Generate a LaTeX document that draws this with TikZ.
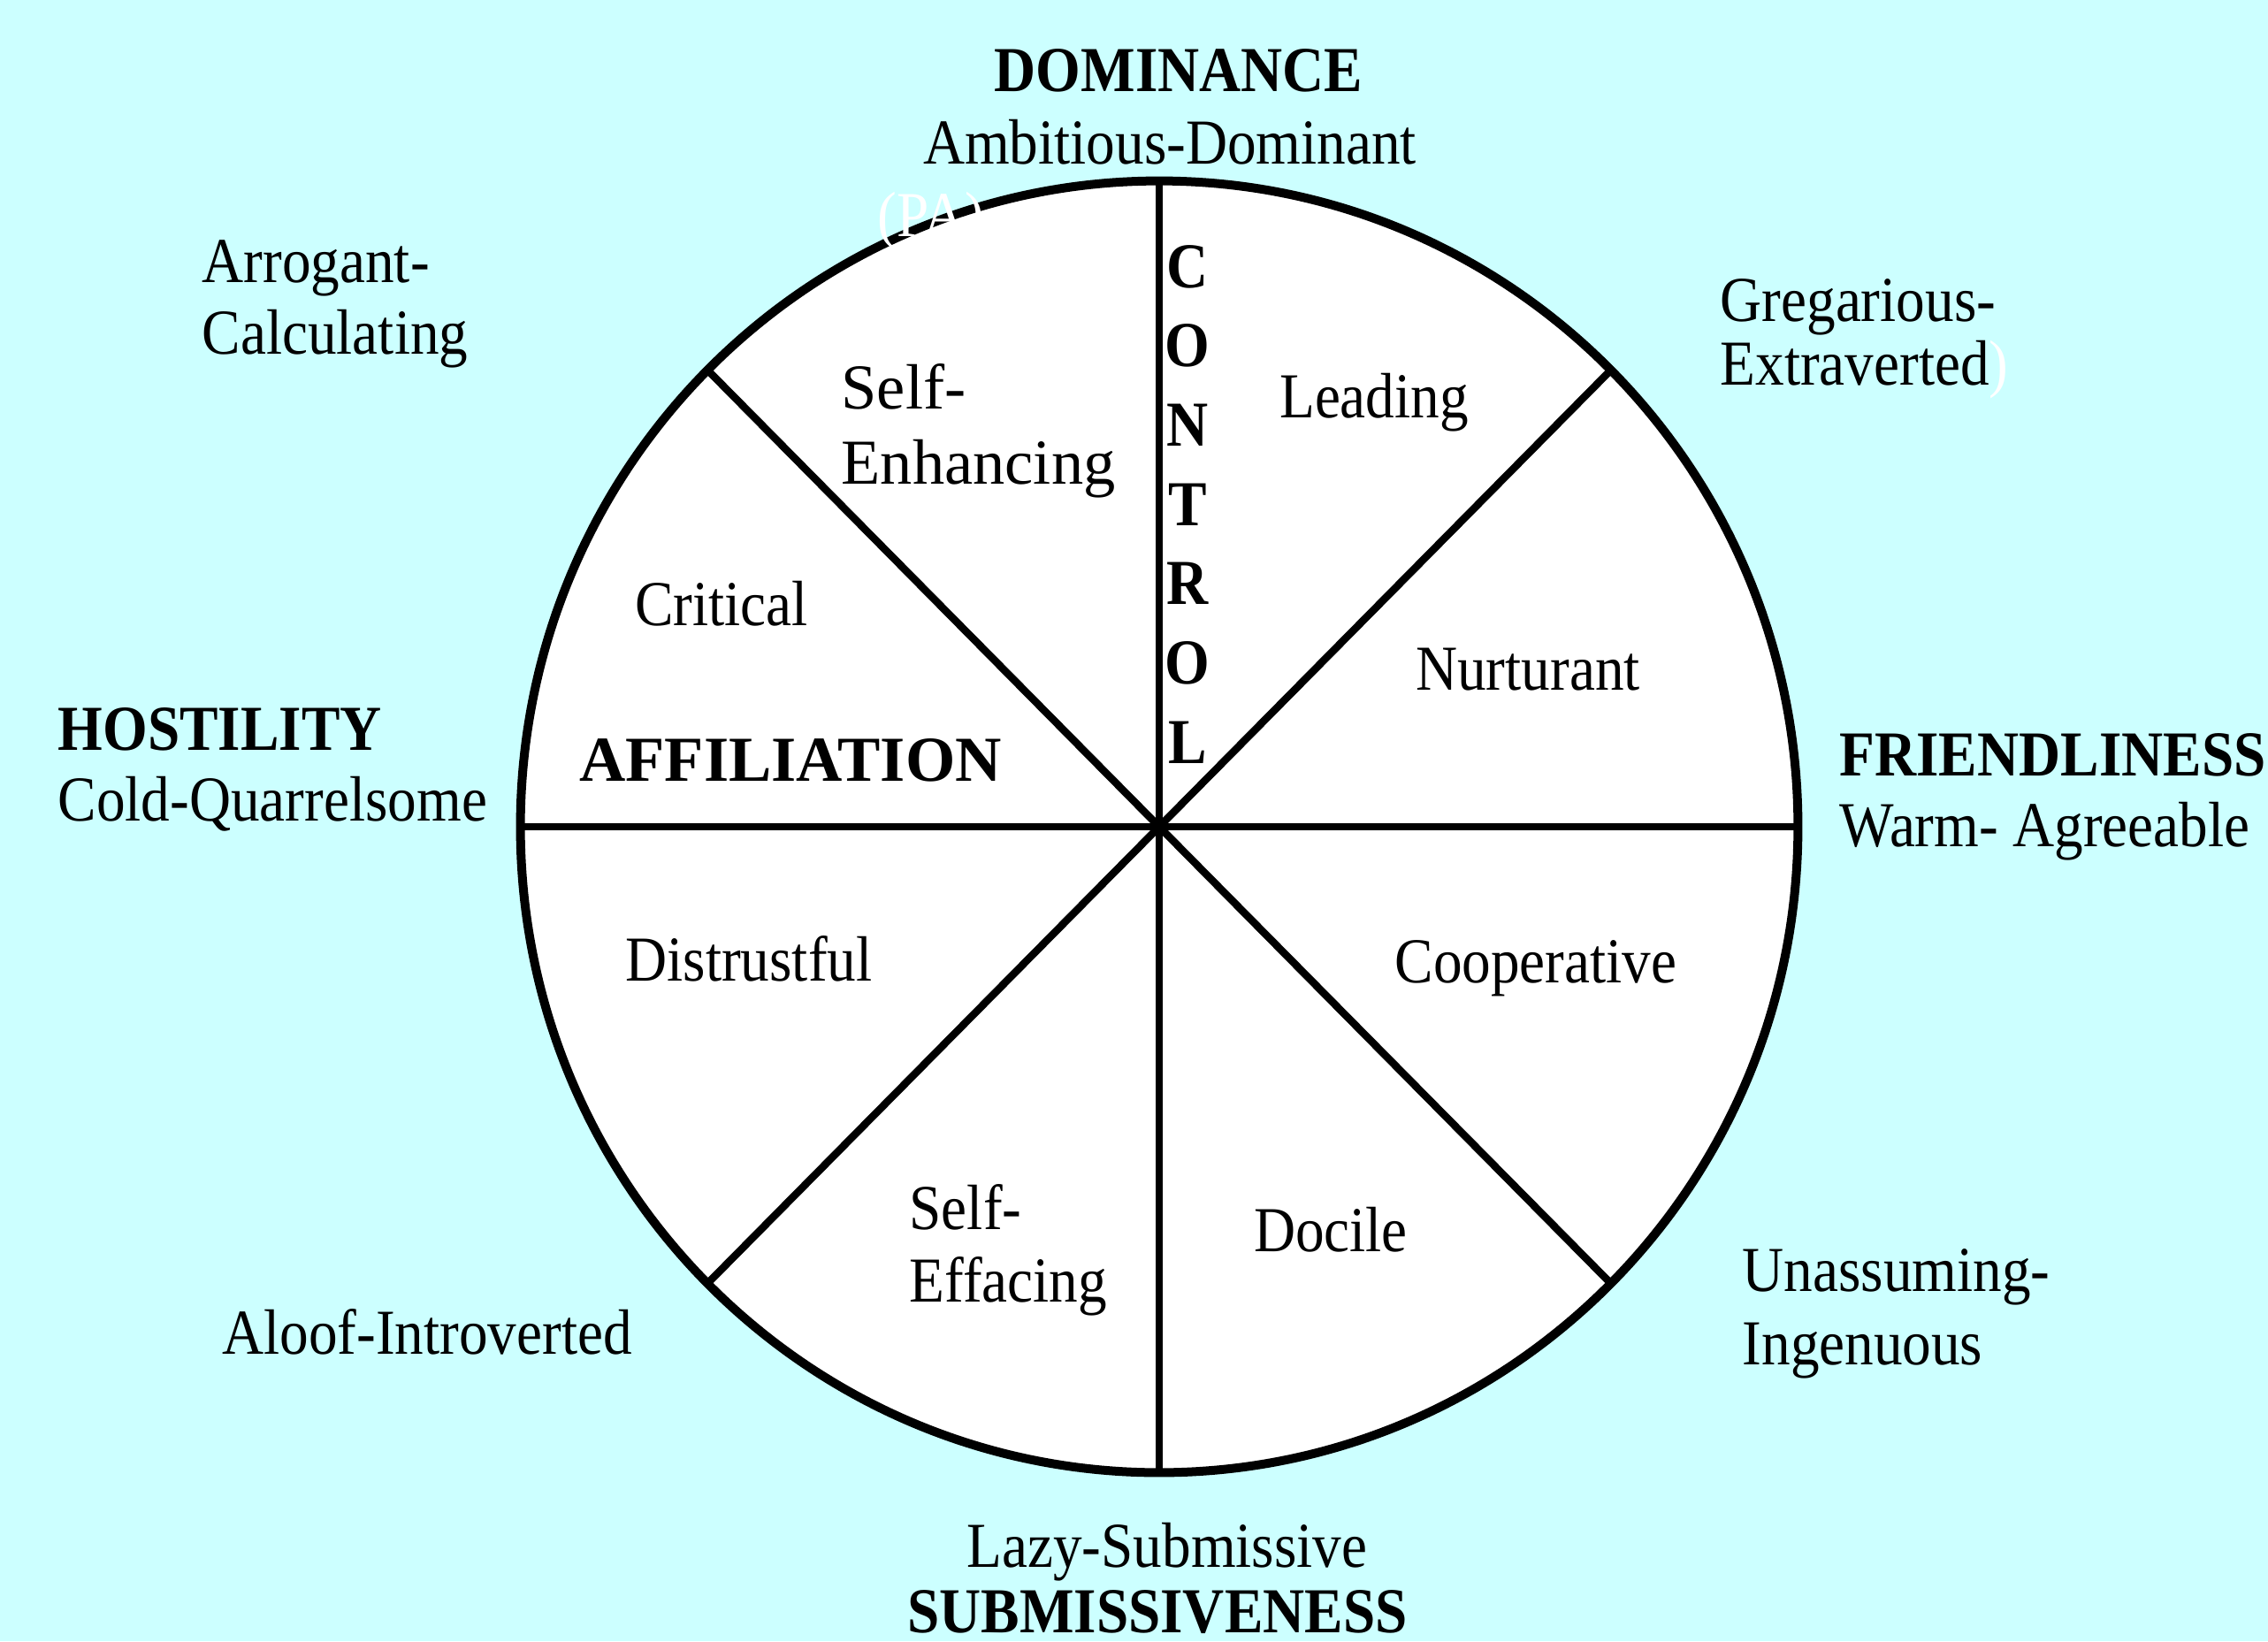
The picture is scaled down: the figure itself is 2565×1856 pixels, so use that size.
\documentclass[tikz,border=0pt]{standalone}
\usepackage{fontspec}
\setmainfont[FakeStretch=0.9]{Liberation Serif}
\newfontfamily\widefont{Liberation Serif}
\definecolor{bgcyan}{RGB}{204,255,255}
\begin{document}
\begin{tikzpicture}[x=0.01cm,y=-0.01cm,
  txt/.style={inner sep=0pt, anchor=base, font=\fontsize{20.6}{23.3}\selectfont},
  txtl/.style={txt, anchor=base west},
  wtxtl/.style={txtl, font=\fontsize{20.6}{23.3}\selectfont\widefont},
  bld/.style={txt, font=\fontsize{20.6}{23.3}\selectfont\bfseries},
  bldl/.style={bld, anchor=base west},
  wbld/.style={bld, font=\fontsize{20.6}{23.3}\selectfont\widefont\bfseries},
  ghost/.style={txt, text=white},
  rim/.style={line width=0.1cm},
  spoke/.style={line width=0.085cm}]
% canvas
\useasboundingbox (0,0) rectangle (2565,1856);
\fill[bgcyan] (0,0) rectangle (2565,1856);

% the circumplex
\coordinate (c) at (1311,935);
\coordinate (top) at (1311,205);
\coordinate (bot) at (1311,1665);
\coordinate (lft) at (589,935);
\coordinate (rgt) at (2033,935);
\coordinate (ne) at (1821.5,418.8);
\coordinate (nw) at (800.5,418.8);
\coordinate (se) at (1821.5,1451.2);
\coordinate (sw) at (800.5,1451.2);
\filldraw[fill=white, rim] (c) ellipse [x radius=7.22cm, y radius=7.30cm];
\draw[spoke] (top) -- (bot);
\draw[spoke] (lft) -- (rgt);
\draw[spoke] (nw) -- (se);
\draw[spoke] (ne) -- (sw);

% poles
\node[bld] (dom) at (1333,103) {DOMINANCE};
\node[txt] (domsub) at (1323,185) {Ambitious-Dominant};
\node[ghost] (pa) at (1053,267) {(PA)};
\node[bld] (sub) at (1309,1846) {SUBMISSIVENESS};
\node[txt] (subsub) at (1320,1772) {Lazy-Submissive};
\node[bldl] (host) at (65,848) {HOSTILITY};
\node[txtl] (hostsub) at (65,928) {Cold-Quarrelsome};
\node[bldl] (fri) at (2080,877) {FRIENDLINESS};
\node[txtl] (frisub) at (2080,957) {Warm- Agreeable};

% octant labels outside
\node[txtl] (arr1) at (228,319) {Arrogant-};
\node[txtl] (arr2) at (228,400) {Calculating};
\node[txtl] (gre1) at (1945,363) {Gregarious-};
\node[txtl] (gre2) at (1945,435) {Extraverted\textcolor{white}{)}};
\node[txt] (alo) at (483,1531) {Aloof-Introverted};
\node[txtl] (una1) at (1970,1460) {Unassuming-};
\node[txtl] (una2) at (1970,1543) {Ingenuous};

% octant labels inside
\node[wtxtl] (enh1) at (951,462) {Self-};
\node[wtxtl] (enh2) at (951,547) {Enhancing};
\node[txt] (lead) at (1554,472) {Leading};
\node[txt] (crit) at (816,707) {Critical};
\node[txt] (nurt) at (1728,780) {Nurturant};
\node[wbld] (aff) at (894,883) {AFFILIATION};
\node[txt] (dist) at (847,1109) {Distrustful};
\node[txt] (coop) at (1737,1111) {Cooperative};
\node[txtl] (eff1) at (1028,1390) {Self-};
\node[txtl] (eff2) at (1028,1472) {Effacing};
\node[txt] (doc) at (1505,1415) {Docile};

% vertical axis name
\foreach \l [count=\i from 0] in {C,O,N,T,R,O,L}
  \node[bld] (ctl\i) at (1343,325+89.7*\i) {\l};
\end{tikzpicture}
\end{document}
